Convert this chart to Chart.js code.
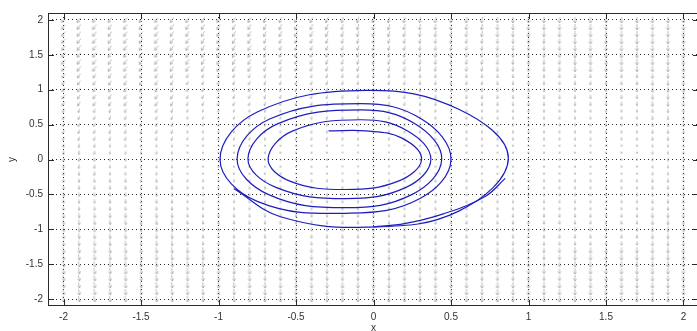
<!DOCTYPE html>
<html>
<head>
<meta charset="utf-8">
<script src="https://cdn.jsdelivr.net/npm/chart.js@4.4.1/dist/chart.umd.min.js"></script>
<style>
  html, body { margin: 0; padding: 0; background: #fff; overflow: hidden; width: 697px; height: 331px; }
  canvas { display: block; }
</style>
</head>
<body>
<canvas id="c" width="704" height="331"></canvas>
<script>
// axis ticks
const xTicks = [-2, -1.5, -1, -0.5, 0, 0.5, 1, 1.5, 2];
const yTicks = [-2, -1.5, -1, -0.5, 0, 0.5, 1, 1.5, 2];

// quiver grid
const gridX = [-2, -1.9, -1.8, -1.7, -1.6, -1.5, -1.4, -1.3, -1.2, -1.1, -1, -0.9, -0.8, -0.7, -0.6, -0.5, -0.4, -0.3, -0.2, -0.1, 0,
  0.1, 0.2, 0.3, 0.4, 0.5, 0.6, 0.7, 0.8, 0.9, 1, 1.1, 1.2, 1.3, 1.4, 1.5, 1.6, 1.7, 1.8, 1.9, 2];
const gridY = gridX.slice();

// arrow direction (deg) and length (px), read per 0.5 block, rows y=2 .. y=-2, cols x=-2 .. 2
const arrowAngle = [
  [-128, -125, -120, -114, -106, -98, -92, -90, -90],
  [-128, -125, -120, -114, -106, -98, -92, -90, -90],
  [-124, -120, -115, -108, -100, -95, -90, -90, -90],
  [-114, -110, -105, -100, -95, -92, -90, -88, -88],
  [-95, -95, -92, -90, -90, -90, -88, -88, -88],
  [-85, -86, -88, -90, -90, -90, -90, -90, -90],
  [-82, -84, -86, -88, -90, -90, -90, -90, -90],
  [-80, -82, -85, -88, -90, -90, -90, -90, -90],
  [-80, -82, -85, -88, -90, -90, -90, -90, -90]
];
const arrowLen = [
  [6, 6, 6, 6, 6, 6, 6, 6, 6],
  [6, 6, 6, 5, 5, 5, 5, 6, 6],
  [5, 5, 4, 4, 4, 4, 4, 4, 5],
  [4, 4, 3, 3, 3, 3, 3, 3, 4],
  [4, 3, 2, 2, 1, 2, 2, 2, 3],
  [4, 4, 3, 3, 3, 3, 3, 3, 4],
  [5, 5, 4, 4, 4, 4, 4, 4, 5],
  [6, 6, 6, 5, 5, 5, 5, 6, 6],
  [6, 6, 6, 6, 6, 6, 6, 6, 6]
];

// spiral trajectory
const trajX = [-0.29, -0.05, 0.18, 0.31, 0.16, -0.18, -0.54, -0.68, -0.52, -0.08, 0.22, 0.37, 0.21, -0.18, -0.63, -0.81,
  -0.62, -0.08, 0.27, 0.44, 0.25, -0.18, -0.68, -0.88, -0.67, -0.08, 0.31, 0.50, 0.30, -0.15, -0.75, -0.99,
  -0.75, -0.05, 0.55, 0.87, 0.55, -0.05, -0.6, -0.9];
const trajY = [0.41, 0.41, 0.31, 0.0, -0.31, -0.43, -0.31, 0.01, 0.41, 0.57, 0.41, 0.0, -0.40, -0.56, -0.40, 0.01,
  0.51, 0.71, 0.51, 0.0, -0.50, -0.69, -0.50, 0.01, 0.58, 0.80, 0.58, 0.0, -0.56, -0.77, -0.6, 0.0,
  0.68, 0.99, 0.72, 0.02, -0.74, -0.97, -0.82, -0.42];
// short outer piece ending on the right
const tailX = [0.85, 0.72, 0.45, 0.2, 0.0];
const tailY = [-0.27, -0.53, -0.78, -0.92, -0.965];

const arrowCache = {};
function arrowImage(angle, len) {
  const key = angle + '_' + len;
  if (arrowCache[key]) return arrowCache[key];
  const s = 2 * len + 8;
  const cv = document.createElement('canvas');
  cv.width = s; cv.height = s;
  const g = cv.getContext('2d');
  const a = angle * Math.PI / 180;
  const dx = Math.cos(a), dy = -Math.sin(a);
  const c = s / 2;
  const x0 = c - dx * len / 2, y0 = c - dy * len / 2;
  const x1 = c + dx * len / 2, y1 = c + dy * len / 2;
  g.strokeStyle = 'rgba(150,150,150,0.6)';
  g.lineWidth = 1;
  g.beginPath();
  g.moveTo(x0, y0); g.lineTo(x1, y1);
  const h = Math.max(1.5, len * 0.5);
  [0.6, -0.6].forEach(t => {
    const ha = Math.atan2(dy, dx) + Math.PI + t;
    g.moveTo(x1, y1);
    g.lineTo(x1 + Math.cos(ha) * h, y1 + Math.sin(ha) * h);
  });
  g.stroke();
  arrowCache[key] = cv;
  return cv;
}

const quiverData = [];
gridY.forEach(yv => gridX.forEach(xv => quiverData.push({ x: xv, y: yv })));

const traj = trajX.map((v, i) => ({ x: v, y: trajY[i] }));
const tail = tailX.map((v, i) => ({ x: v, y: tailY[i] }));

const framePlugin = {
  id: 'frame',
  afterDraw(chart) {
    const { ctx, chartArea: a, scales: { x, y } } = chart;
    ctx.save();
    ctx.strokeStyle = '#2a2a2a';
    ctx.lineWidth = 1;
    ctx.strokeRect(a.left + 0.5, a.top + 0.5, a.right - a.left - 1, a.bottom - a.top - 1);
    ctx.beginPath();
    xTicks.forEach(v => {
      const px = Math.round(x.getPixelForValue(v)) + 0.5;
      ctx.moveTo(px, a.bottom); ctx.lineTo(px, a.bottom - 6);
      ctx.moveTo(px, a.top); ctx.lineTo(px, a.top + 6);
    });
    yTicks.forEach(v => {
      const py = Math.round(y.getPixelForValue(v)) + 0.5;
      ctx.moveTo(a.left, py); ctx.lineTo(a.left + 6, py);
      ctx.moveTo(a.right, py); ctx.lineTo(a.right - 6, py);
    });
    ctx.stroke();
    ctx.fillStyle = '#333';
    ctx.font = '10px "Liberation Sans", Arial, sans-serif';
    ctx.textAlign = 'center';
    ctx.textBaseline = 'middle';
    ctx.fillText('x', (a.left + a.right) / 2, 328);
    ctx.translate(12, (a.top + a.bottom) / 2);
    ctx.rotate(-Math.PI / 2);
    ctx.fillText('y', 0, 0);
    ctx.restore();
  }
};

new Chart(document.getElementById('c'), {
  type: 'scatter',
  data: {
    datasets: [
      {
        data: traj,
        showLine: true,
        borderColor: 'rgb(30,30,190)',
        borderWidth: 1.2,
        tension: 0.4,
        pointRadius: 0,
        order: 1
      },
      {
        data: tail,
        showLine: true,
        borderColor: 'rgb(30,30,190)',
        borderWidth: 1.2,
        tension: 0.4,
        pointRadius: 0,
        order: 1
      },
      {
        data: quiverData,
        showLine: false,
        pointStyle: ctx => {
          const p = ctx.raw;
          if (!p) return 'circle';
          const col = Math.round((p.x + 2) / 0.5);
          const row = Math.round((2 - p.y) / 0.5);
          return arrowImage(arrowAngle[row][col], arrowLen[row][col]);
        },
        pointRadius: 3,
        order: 2
      }
    ]
  },
  options: {
    responsive: false,
    animation: false,
    devicePixelRatio: 1,
    layout: { padding: { top: 13, left: 0, right: 0, bottom: 0 } },
    plugins: { legend: { display: false }, tooltip: { enabled: false } },
    scales: {
      x: {
        type: 'linear',
        min: -2.1,
        max: 2.1,
        afterBuildTicks: s => { s.ticks = xTicks.map(v => ({ value: v })); },
        afterFit: s => { s.height = 25; },
        grid: { color: '#222', lineWidth: 1, drawTicks: false },
        border: { display: false, dash: [1, 3] },
        ticks: {
          padding: 5,
          color: '#333',
          font: { family: '"Liberation Sans", Arial, sans-serif', size: 10 },
          maxRotation: 0,
          callback: v => String(v)
        }
      },
      y: {
        type: 'linear',
        min: -2.1,
        max: 2.1,
        afterBuildTicks: s => { s.ticks = yTicks.map(v => ({ value: v })); },
        afterFit: s => { s.width = 48; },
        grid: { color: '#222', lineWidth: 1, drawTicks: false },
        border: { display: false, dash: [1, 3] },
        ticks: {
          padding: 5,
          color: '#333',
          font: { family: '"Liberation Sans", Arial, sans-serif', size: 10 },
          callback: v => String(v)
        }
      }
    }
  },
  plugins: [framePlugin]
});
</script>
</body>
</html>
